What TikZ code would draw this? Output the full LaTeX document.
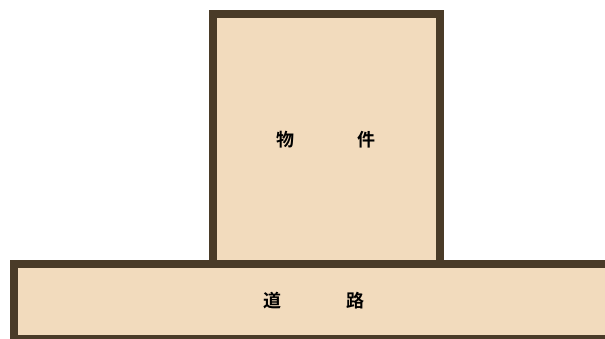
\documentclass[tikz,border=0pt]{standalone}
\usepackage{fontspec}
\newfontfamily\jpfont{Noto Sans CJK JP}[BoldFont={Noto Sans CJK JP Bold}]
\definecolor{wall}{HTML}{4A3B28}
\definecolor{ground}{HTML}{F2DBBD}
\begin{document}
\begin{tikzpicture}[x=1pt,y=-1pt]
  \useasboundingbox (0,0) rectangle (605,339);
  \clip (0,0) rectangle (605,339);
  \draw[wall, line width=8pt, fill=ground] (213,14) rectangle (439.5,263.5);
  \draw[wall, line width=8pt, fill=ground] (13.5,263.5) rectangle (625,338.5);
  \node[font=\jpfont\bfseries\fontsize{18}{18}\selectfont] (B) at (326,140) {物\hspace{63pt}件};
  \node[font=\jpfont\bfseries\fontsize{18}{18}\selectfont] (R) at (314,301) {道\hspace{65pt}路};
\end{tikzpicture}
\end{document}
